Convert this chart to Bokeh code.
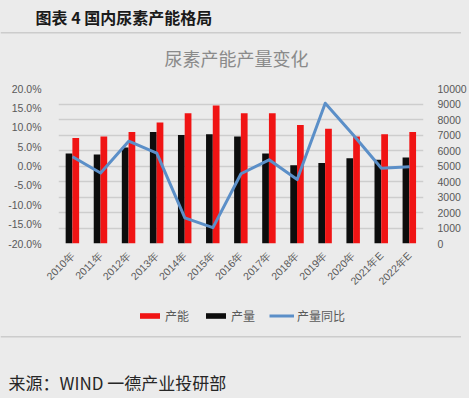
from bokeh.plotting import figure
from bokeh.layouts import column
from bokeh.models import (Range1d, LinearAxis, FixedTicker, PrintfTickFormatter, Grid,
                          Legend, LegendItem, Label, Span, FactorRange, ColumnDataSource)
from bokeh.transform import dodge
from bokeh.embed import file_html
from bokeh.resources import INLINE
import math

years = ["2010年", "2011年", "2012年", "2013年", "2014年", "2015年", "2016年",
         "2017年", "2018年", "2019年", "2020年", "2021年E", "2022年E"]
capacity = [6800, 6900, 7200, 7800, 8400, 8900, 8400, 8400, 7650, 7400, 6900, 7050, 7200]
output = [5800, 5750, 6200, 7200, 7000, 7050, 6900, 5800, 5050, 5200, 5500, 5400, 5550]
yoy = [2.4, -1.8, 6.4, 3.3, -13.4, -15.9, -2.0, 1.6, -3.5, 16.2, 8.0, -0.6, -0.2]

left_ticks = [-20, -15, -10, -5, 0, 5, 10, 15, 20]
right_ticks = [0, 1000, 2000, 3000, 4000, 5000, 6000, 7000, 8000, 9000, 10000]

BG = "#ebebeb"
BORDER = "#cccccc"
TICK_COLOR = "#595959"
FONT = "Noto Sans CJK SC"
NUM_FONT = "Liberation Sans"
RED = "#f01414"
BLACK = "#0d0d0d"
BLUE = "#5b8fc8"
W = 461


def no_align(f):
    try:
        f.frame_align = False
    except Exception:
        pass


def blank(h):
    f = figure(width=W, height=h, output_backend="svg", toolbar_location=None,
               x_range=Range1d(0, W), y_range=Range1d(0, h),
               x_axis_location=None, y_axis_location=None,
               min_border=0, background_fill_color=BG, border_fill_color=BG,
               outline_line_color=None)
    f.grid.visible = False
    no_align(f)
    return f


# ---- top strip: header + chart title
top = blank(68)
top.add_layout(Span(location=35.7, dimension="width", line_color=BORDER, line_width=1.5))
top.add_layout(Label(x=35, y=52, x_units="screen", y_units="screen",
                     text="图表 4 国内尿素产能格局", text_align="left", text_baseline="middle",
                     text_font=FONT, text_font_size="16px", text_font_style="bold",
                     text_color="#1a1a1a"))
top.add_layout(Label(x=236, y=11, x_units="screen", y_units="screen",
                     text="尿素产能产量变化", text_align="center", text_baseline="middle",
                     text_font=FONT, text_font_size="18px", text_color="#8a8a8a"))

# ---- main chart
src = ColumnDataSource(dict(year=years, cap=capacity, out=output, yoy=yoy))

p = figure(frame_width=365, frame_height=155, output_backend="svg", toolbar_location=None,
           x_range=FactorRange(*years, range_padding=0), y_range=Range1d(-20, 20),
           min_border_left=58, min_border_right=38, min_border_top=20, min_border_bottom=50,
           background_fill_color=BG, border_fill_color=BG, outline_line_color=None)
no_align(p)
p.x_range.factor_padding = 0
p.extra_y_ranges = {"cap": Range1d(0, 10000)}
p.xgrid.visible = False
p.ygrid.visible = False

raxis = LinearAxis(y_range_name="cap", ticker=FixedTicker(ticks=right_ticks))
p.add_layout(raxis, "right")
p.add_layout(Grid(dimension=1, ticker=raxis.ticker, y_range_name="cap",
                  grid_line_color="#cdcdcd", grid_line_width=1.3), "center")

p.yaxis[0].ticker = FixedTicker(ticks=left_ticks)
p.yaxis[0].formatter = PrintfTickFormatter(format="%.1f%%")

for ax in [p.yaxis[0], raxis, p.xaxis[0]]:
    ax.axis_line_color = None
    ax.major_tick_line_color = None
    ax.minor_tick_line_color = None
    ax.major_label_text_color = TICK_COLOR
    ax.major_label_text_font = NUM_FONT
    ax.major_label_text_font_size = "10.5px"
p.yaxis[0].major_label_standoff = 11
raxis.major_label_standoff = 8
p.xaxis[0].major_label_orientation = math.pi / 4
p.xaxis[0].major_label_standoff = 4

p.vbar(x=dodge("year", -0.125, range=p.x_range), top="out", width=0.24,
       source=src, y_range_name="cap", fill_color=BLACK, line_color=None)
p.vbar(x=dodge("year", 0.115, range=p.x_range), top="cap", width=0.24,
       source=src, y_range_name="cap", fill_color=RED, line_color=None)
p.line(x="year", y="yoy", source=src, line_color=BLUE, line_width=3, line_join="round")

# ---- bottom strip: legend + source
bot = blank(97)
proxy = ColumnDataSource(dict(x=[float("nan")], y=[float("nan")]))
k_cap = bot.vbar(x="x", top="y", width=1, source=proxy, fill_color=RED, line_color=None)
k_out = bot.vbar(x="x", top="y", width=1, source=proxy, fill_color=BLACK, line_color=None)
k_line = bot.line(x="x", y="y", source=proxy, line_color=BLUE, line_width=3)
legend = Legend(items=[LegendItem(label="产能", renderers=[k_cap]),
                       LegendItem(label="产量", renderers=[k_out]),
                       LegendItem(label="产量同比", renderers=[k_line])],
                orientation="horizontal", location=(137, 67),
                background_fill_alpha=0, border_line_color=None,
                padding=0, margin=0, spacing=14, label_standoff=3,
                glyph_width=25, glyph_height=7, label_height=14,
                label_text_font=FONT, label_text_font_size="12px",
                label_text_color=TICK_COLOR)
bot.add_layout(legend, "center")
bot.add_layout(Span(location=54.7, dimension="width", line_color=BORDER, line_width=1.5))
bot.add_layout(Label(x=8, y=9, x_units="screen", y_units="screen",
                     text="来源：WIND 一德产业投研部", text_align="left", text_baseline="middle",
                     text_font=FONT, text_font_size="17px", text_color="#262626"))

layout = column(top, p, bot, spacing=0)
html = file_html(layout, INLINE).replace("<body>", '<body style="background:#ebebeb">')
open("out.html", "w").write(html)
